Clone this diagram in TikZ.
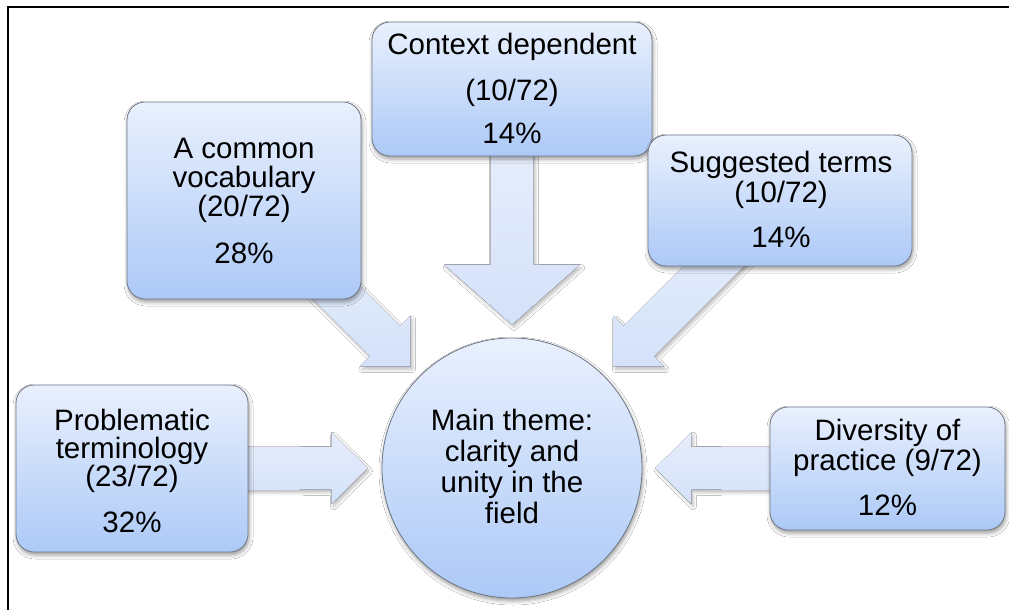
\documentclass[tikz,border=0pt]{standalone}
\usepackage{fontspec}
\setmainfont{Liberation Sans}
\usetikzlibrary{calc,shadows.blur}
\pgfdeclarelayer{background}
\pgfsetlayers{background,main}
\definecolor{boxtop}{RGB}{233,240,253}
\definecolor{boxbot}{RGB}{172,201,247}
\definecolor{boxline}{RGB}{110,118,132}
\definecolor{arrtop}{RGB}{231,238,252}
\definecolor{arrbot}{RGB}{212,225,249}
% #1 start, #2 tip, #3 head half-width, #4 head length
\newcommand\radarrow[4]{%
  \coordinate (ahb) at ($(#2)!#4!(#1)$);
  \fill[arrowfill] ($(#1)!21.5pt!90:(#2)$) -- ($(ahb)!21.5pt!90:(#2)$) -- ($(ahb)!#3!90:(#2)$) -- (#2)
    -- ($(ahb)!#3!-90:(#2)$) -- ($(ahb)!21.5pt!-90:(#2)$) -- ($(#1)!21.5pt!-90:(#2)$) -- cycle;}
\begin{document}
\begin{tikzpicture}[x=1pt,y=-1pt,
  box/.style={draw=boxline, line width=0.8pt, rounded corners=18pt, top color=boxtop, bottom color=boxbot,
    inner sep=0pt, blur shadow={shadow xshift=1pt, shadow yshift=-3pt, shadow blur radius=4pt, shadow opacity=40}},
  hub/.style={circle, draw=boxline, line width=0.8pt, top color=boxtop, bottom color=boxbot,
    minimum size=260pt, inner sep=0pt, blur shadow={shadow xshift=1pt, shadow yshift=-3pt, shadow blur radius=4pt, shadow opacity=40}},
  txt/.style={anchor=base, inner sep=0pt, font=\fontsize{29.5}{35}\selectfont},
  arrowfill/.style={top color=arrtop, bottom color=arrbot,
    blur shadow={shadow xshift=2pt, shadow yshift=-3pt, shadow blur radius=3pt, shadow opacity=25}}]
\useasboundingbox (0,0) rectangle (1009,610);

% boxes
\node[box, minimum width=234pt, minimum height=197pt] (common) at (244,200.5) {};
\node[box, minimum width=280pt, minimum height=134pt] (ctx) at (512,89) {};
\node[box, minimum width=264pt, minimum height=131pt] (sug) at (780,200.5) {};
\node[box, minimum width=232pt, minimum height=167pt] (prob) at (132,468.5) {};
\node[box, minimum width=235pt, minimum height=123pt] (div) at (887.5,468.5) {};
\node[hub] (main) at (512,468) {};

% texts
\node[txt] (c1) at (244,158) {A common};
\node[txt] (c2) at (244,187) {vocabulary};
\node[txt] (c3) at (244,216) {(20/72)};
\node[txt] (c4) at (244,263) {28\%};

\node[txt] (x1) at (512,55) {Context dependent};
\node[txt] (x2) at (512,100) {(10/72)};
\node[txt] (x3) at (512,143) {14\%};

\node[txt] (s1) at (781,172) {Suggested terms};
\node[txt] (s2) at (781,202) {(10/72)};
\node[txt] (s3) at (781,247) {14\%};

\node[txt] (p1) at (132,430) {Problematic};
\node[txt] (p2) at (132,458) {terminology};
\node[txt] (p3) at (132,486) {(23/72)};
\node[txt] (p4) at (132,532) {32\%};

\node[txt] (d1) at (887.5,440) {Diversity of};
\node[txt] (d2) at (887.5,470) {practice (9/72)};
\node[txt] (d3) at (887.5,515) {12\%};

\node[txt] (m1) at (512,430) {Main theme:};
\node[txt] (m2) at (512,461) {clarity and};
\node[txt] (m3) at (512,492) {unity in the};
\node[txt] (m4) at (512,523) {field};

% arrow end points
\coordinate (sL) at ([xshift=-20pt]prob.east);
\coordinate (tL) at ([xshift=-14pt]main.west);
\coordinate (sR) at ([xshift=20pt]div.west);
\coordinate (tR) at ([xshift=13pt]main.east);
\coordinate (sT) at ([yshift=15pt]ctx.south);
\coordinate (tT) at ([yshift=13pt]main.north);
\coordinate (tUL) at ($(main.north west)!-13pt!(main.center)$);
\coordinate (sUL) at ($(tUL)!-150pt!(main.center)$);
\coordinate (tUR) at ($(main.north east)!-13pt!(main.center)$);
\coordinate (sUR) at ($(tUR)!-180pt!(main.center)$);

\begin{pgfonlayer}{background}
\fill[white] (0,0) rectangle (1009,610);
\draw[line width=2pt] (1009,7) -- (8,7) -- (8,610);
\radarrow{sL}{tL}{36pt}{36pt}
\radarrow{sR}{tR}{36pt}{36pt}
\radarrow{sT}{tT}{68pt}{60pt}
\radarrow{sUL}{tUL}{36pt}{36pt}
\radarrow{sUR}{tUR}{36pt}{36pt}
\end{pgfonlayer}
\end{tikzpicture}
\end{document}
